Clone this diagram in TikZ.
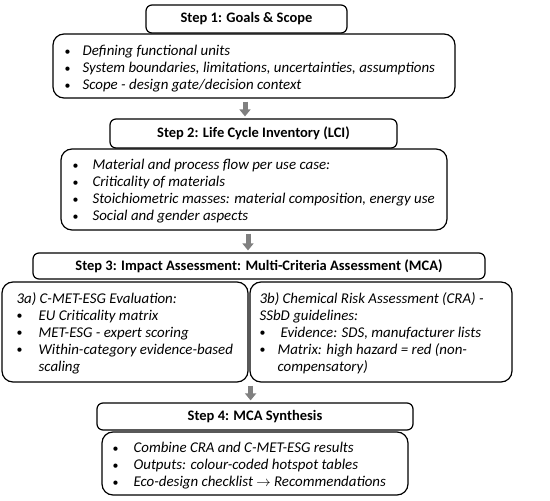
\documentclass[tikz,border=0pt]{standalone}
\usepackage{fontspec}
\usepackage{graphicx}
\setmainfont{Carlito}
\usetikzlibrary{arrows.meta}
\tikzset{
  hdr/.style={draw, line width=1.2pt, rounded corners=6pt, fill=white, inner sep=0pt,
    font=\fontsize{14.5}{17}\selectfont\bfseries},
  bodybox/.style={draw, line width=1.2pt, rounded corners=11pt, fill=white, inner sep=0pt},
  txt/.style={anchor=west, align=left, inner sep=0pt,
    font=\fontsize{14.9}{17}\selectfont\itshape},
  flowarr/.style={draw=black!50, line width=5pt, -{Triangle[width=11pt,length=7pt]},
    shorten <=3pt, shorten >=2pt}
}
\newcommand\bul[1][18pt]{\makebox[#1][l]{\upshape\raisebox{0.3pt}{\scalebox{0.8}{\textbullet}}}}
\begin{document}
\begin{tikzpicture}[x=1pt,y=-1pt]
\useasboundingbox (0,0) rectangle (550,501);
% Step 1
\node[bodybox, minimum width=402pt, minimum height=64pt] (b1) at (254,66) {};
\node[hdr, minimum width=201pt, minimum height=28pt] (h1) at (246.5,19) {Step 1: Goals \& Scope};
\node[txt] (t1) at ([xshift=12pt,yshift=-2.5pt]b1.west) {\bul Defining functional units\\
\bul System boundaries, limitations, uncertainties, assumptions\\
\bul Scope - design gate/decision context};
% Step 2
\node[bodybox, minimum width=386pt, minimum height=81pt] (b2) at (254,189.5) {};
\node[hdr, minimum width=287pt, minimum height=29pt] (h2) at (253.5,133.5) {Step 2: Life Cycle Inventory (LCI)};
\node[txt] (t2) at ([xshift=12pt,yshift=-2pt]b2.west) {\bul[20pt]Material and process flow per use case:\\
\bul[20pt]Criticality of materials\\
\bul[20pt]Stoichiometric masses: material composition, energy use\\
\bul[20pt]Social and gender aspects};
% Step 3
\node[hdr, minimum width=452pt, minimum height=26pt] (h3) at (259,266) {Step 3: Impact Assessment: Multi-Criteria Assessment (MCA)};
\node[bodybox, minimum width=246pt, minimum height=100pt] (b3a) at (125,332) {};
\node[bodybox, minimum width=262pt, minimum height=100pt] (b3b) at (381,332) {};
\node[txt] (t3a) at ([xshift=15pt,yshift=-1pt]b3a.west) {3a) C-MET-ESG Evaluation:\\
\bul[22pt]EU Criticality matrix\\
\bul[22pt]MET-ESG - expert scoring\\
\bul[22pt]Within-category evidence-based\\
\hspace*{22pt}scaling};
\node[txt] (t3b) at ([xshift=10pt,yshift=-1pt]b3b.west) {3b) Chemical Risk Assessment (CRA) -\\
SSbD guidelines:\\
\bul[21pt]Evidence: SDS, manufacturer lists\\
\bul[18pt]Matrix: high hazard = red (non-\\
\hspace*{18pt}compensatory)};
% Step 4
\node[hdr, minimum width=316pt, minimum height=27pt] (h4) at (255,416.5) {Step 4: MCA Synthesis};
\node[bodybox, minimum width=306pt, minimum height=63pt] (b4) at (255,463.5) {};
\node[txt] (t4) at ([xshift=11pt,yshift=-2.5pt]b4.west) {\bul[21pt]Combine CRA and C-MET-ESG results\\
\bul[21pt]Outputs: colour-coded hotspot tables\\
\bul[21pt]Eco-design checklist \ensuremath{\rightarrow} Recommendations};
% arrows
\draw[flowarr] ([xshift=-9pt]b1.south) -- ([xshift=-9pt]b1.south |- h2.north);
\draw[flowarr] ([xshift=-6pt]b2.south) -- ([xshift=-6pt]b2.south |- h3.north);
\draw[flowarr] (b3a.south east) ++(2pt,0) coordinate (a3) (a3) -- (a3 |- h4.north);
\end{tikzpicture}
\end{document}
